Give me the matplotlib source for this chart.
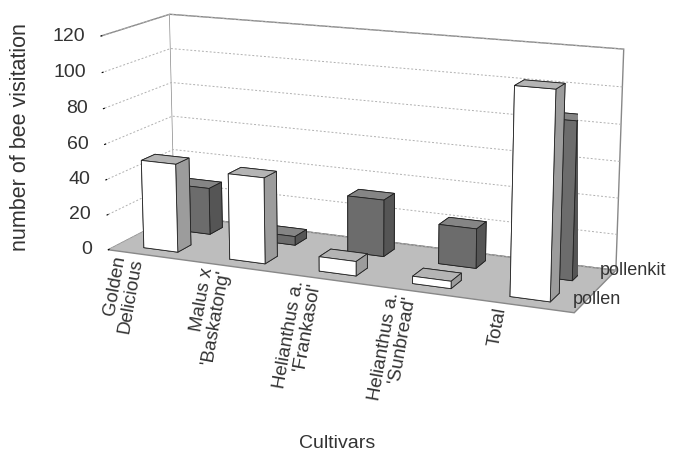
import numpy as np
import matplotlib.pyplot as plt
from matplotlib.transforms import IdentityTransform
from mpl_toolkits.mplot3d import proj3d

plt.rcParams['font.family'] = ['Liberation Sans', 'DejaVu Sans']

cultivars = ["Golden\nDelicious", "Malus x\n'Baskatong'", "Helianthus a.\n'Frankasol'",
             "Helianthus a.\n'Sunbread'", "Total"]
series = ["pollen", "pollenkit"]
pollen = [50, 48, 8, 4, 110]
pollenkit = [27, 5, 32, 22, 86]
zticks = [0, 20, 40, 60, 80, 100, 120]

fig = plt.figure(figsize=(6.73, 4.54), dpi=100)
ax = fig.add_axes([0.022, 0.15, 1.0, 1.0], projection='3d')
ax.set_proj_type('persp', focal_length=0.75)
ax.view_init(elev=14, azim=-66.5)

n = len(cultivars)
bw, bd = 0.4, 0.4
xs = np.concatenate([np.arange(n), np.arange(n)]) - bw / 2
ys = np.concatenate([np.full(n, 0.5), np.full(n, 1.5)]) - bd / 2
zs = np.zeros(2 * n)
heights = np.array(pollen + pollenkit, dtype=float)

# face order in bar3d: -z, +z, -y, +y, -x, +x
white_faces = ['#ffffff', '#b4b4b4', '#ffffff', '#8c8c8c', '#8c8c8c', '#9c9c9c']
dark_faces = ['#6c6c6c', '#858585', '#6c6c6c', '#4a4a4a', '#4a4a4a', '#555555']
face_colors = white_faces * n + dark_faces * n

ax.bar3d(xs, ys, zs, bw, bd, heights, color=face_colors, shade=False,
         edgecolor='#222222', linewidth=0.6)

ax.set_xlim(-0.5, n - 0.5)
ax.set_ylim(0, 2)
ax.set_zlim(0, 120)
ax.set_box_aspect((5, 1.41, 2.24), zoom=1.21)

for a in (ax.xaxis, ax.yaxis):
    a._axinfo['grid'].update(color=(1, 1, 1, 0))
    a._axinfo['tick'].update(inward_factor=0, outward_factor=0)
ax.zaxis._axinfo['grid'].update(color='#b0b0b0', linewidth=0.7, linestyle=(0, (2, 2)))
ax.zaxis._axinfo['tick'].update(inward_factor=0, outward_factor=0.15, color='#888888')

ax.xaxis.set_pane_color((1, 1, 1, 1))
ax.yaxis.set_pane_color((1, 1, 1, 1))
ax.zaxis.set_pane_color('#bdbdbd')
for a in (ax.xaxis, ax.yaxis, ax.zaxis):
    a.pane.set_edgecolor('#888888')
    a.line.set_color((0, 0, 0, 0))

ax.set_xticks(range(n))
ax.set_xticklabels([])
ax.set_yticks([0.5, 1.5])
ax.set_yticklabels([])
ax.set_zticks(zticks)
ax.set_zticklabels([])
ax.zaxis.set_ticks_position('lower')

# labels are placed in screen space from projected 3D positions
fig.canvas.draw()
M = ax.get_proj()


def to_px(x, y, z):
    px, py, _ = proj3d.proj_transform(x, y, z, M)
    return ax.transData.transform((px, py))


for i, lab in enumerate(cultivars):
    dx, dy = to_px(i, 0, 0)
    fig.text(dx - 22, dy - 2, lab, transform=IdentityTransform(), rotation=80,
             rotation_mode='anchor', ha='right', va='center', fontsize=13.5,
             color='#333333', linespacing=1.0)

for t in zticks:
    dx, dy = to_px(-0.5, 0, t)
    fig.text(dx - 16, dy, str(t), transform=IdentityTransform(), ha='right',
             va='center', fontsize=14, color='#333333')

series_dx = [-12, -6]
series_dy = [2, 10]
for j, s in enumerate(series):
    dx, dy = to_px(n - 0.5, j + 0.5, 0)
    fig.text(dx + series_dx[j], dy + series_dy[j], s, transform=IdentityTransform(),
             ha='left', va='center', fontsize=13, color='#333333')

fig.text(0.031, 0.698, 'number of bee visitation', rotation=90, ha='center',
         va='center', fontsize=15.5, color='#333333')
fig.text(0.501, 0.024, 'Cultivars', ha='center', va='center', fontsize=14,
         color='#333333')

fig.savefig('out.png', dpi=100)
